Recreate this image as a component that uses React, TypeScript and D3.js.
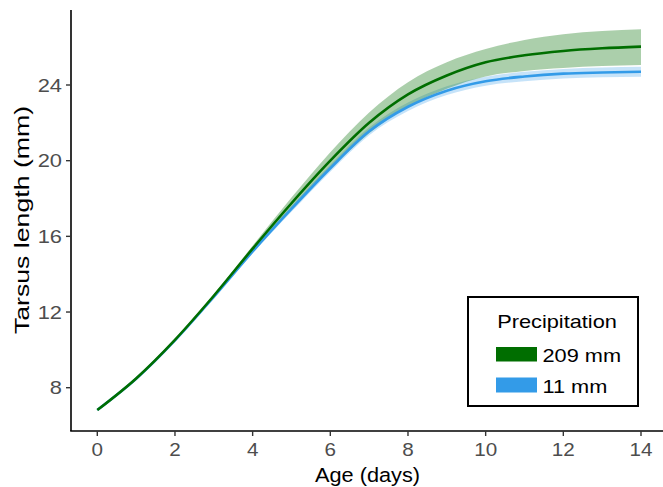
import React from "react";
import * as d3 from "d3";

const ages = [0, 1, 2, 3, 4, 5, 6, 7, 8, 9, 10, 11, 12, 13, 14];
const wetMean = [6.82, 8.49, 10.53, 12.86, 15.35, 17.75, 20.0, 22.0, 23.5, 24.5, 25.2, 25.57, 25.8, 25.94, 26.03];
const wetLower = [6.8, 8.47, 10.5, 12.8, 15.2, 17.45, 19.55, 21.45, 22.85, 23.8, 24.45, 24.74, 24.9, 25.0, 25.06];
const wetUpper = [6.84, 8.51, 10.56, 12.92, 15.5, 18.05, 20.45, 22.55, 24.15, 25.2, 25.9, 26.38, 26.68, 26.85, 26.95];
const dryMean = [6.82, 8.47, 10.5, 12.8, 15.2, 17.45, 19.6, 21.55, 22.85, 23.7, 24.2, 24.45, 24.6, 24.66, 24.7];
const dryLower = [6.8, 8.45, 10.46, 12.74, 15.1, 17.3, 19.42, 21.35, 22.63, 23.47, 23.96, 24.2, 24.35, 24.41, 24.44];
const dryUpper = [6.84, 8.49, 10.54, 12.86, 15.3, 17.6, 19.78, 21.75, 23.07, 23.93, 24.44, 24.7, 24.85, 24.92, 24.96];
const xTicks = [0, 2, 4, 6, 8, 10, 12, 14];
const yTicks = [8, 12, 16, 20, 24];
const legendLabels = ["209 mm", "11 mm"];

const W = 663;
const H = 487;
const GREEN = "#006e00";
const BLUE = "#339be8";
const FONT = "'Liberation Sans', Arial, sans-serif";

type TProps = {
  x: number;
  y: number;
  size: number;
  sx: number;
  anchor?: "start" | "middle" | "end";
  fill?: string;
  rotate?: number;
  children: React.ReactNode;
};

function T({ x, y, size, sx, anchor = "start", fill = "#000", rotate = 0, children }: TProps) {
  return (
    <text
      transform={`translate(${x},${y}) rotate(${rotate}) scale(${sx},1)`}
      textAnchor={anchor}
      fontSize={size}
      fill={fill}
    >
      {children}
    </text>
  );
}

export default function App() {
  const x = d3.scaleLinear().domain([0, 14]).range([97.3, 641]);
  const y = d3.scaleLinear().domain([8, 24]).range([387.7, 85]);
  const axisLeft = 71;
  const axisBottom = 431;

  const line = (vals: number[]) =>
    d3
      .line<number>()
      .x((_, i) => x(ages[i]))
      .y((d) => y(d))
      .curve(d3.curveMonotoneX)(vals) || "";
  const band = (lo: number[], hi: number[]) =>
    d3
      .area<number>()
      .x((_, i) => x(ages[i]))
      .y0((_, i) => y(lo[i]))
      .y1((_, i) => y(hi[i]))
      .curve(d3.curveMonotoneX)(ages) || "";

  return (
    <svg
      width={W}
      height={H}
      style={{ position: "absolute", left: 0, top: 0, background: "#fff" }}
      fontFamily={FONT}
    >
      <rect width={W} height={H} fill="#fff" />
      <path d={band(dryLower, dryUpper)} fill={BLUE} fillOpacity={0.28} />
      <path d={band(wetLower, wetUpper)} fill={GREEN} fillOpacity={0.33} />
      <path d={line(dryMean)} fill="none" stroke={BLUE} strokeWidth={2.6} />
      <path d={line(wetMean)} fill="none" stroke={GREEN} strokeWidth={2.6} />

      {/* axes */}
      <line x1={axisLeft} x2={axisLeft} y1={10} y2={axisBottom} stroke="#000" strokeWidth={1.6} />
      <line x1={axisLeft - 0.8} x2={W} y1={axisBottom} y2={axisBottom} stroke="#000" strokeWidth={1.6} />
      {xTicks.map((t) => (
        <g key={"x" + t}>
          <line x1={x(t)} x2={x(t)} y1={axisBottom} y2={axisBottom + 5} stroke="#333" strokeWidth={1.4} />
          <T x={x(t)} y={456} size={17.5} sx={1.18} anchor="middle" fill="#4d4d4d">
            {t}
          </T>
        </g>
      ))}
      {yTicks.map((t) => (
        <g key={"y" + t}>
          <line x1={axisLeft - 5} x2={axisLeft} y1={y(t)} y2={y(t)} stroke="#333" strokeWidth={1.4} />
          <T x={62} y={y(t) + 6.5} size={17.5} sx={1.25} anchor="end" fill="#4d4d4d">
            {t}
          </T>
        </g>
      ))}
      <T x={367.5} y={481.5} size={20.5} sx={1.06} anchor="middle">
        Age (days)
      </T>
      <T x={29} y={220} size={21} sx={1.27} anchor="middle" rotate={-90}>
        Tarsus length (mm)
      </T>

      {/* legend */}
      <rect x={468} y={297} width={170} height={109} fill="#fff" stroke="#000" strokeWidth={2} />
      <T x={557} y={328.3} size={18.6} sx={1.17} anchor="middle">
        Precipitation
      </T>
      <rect x={496} y={347} width={41} height={14.5} fill={GREEN} />
      <T x={542.5} y={361.7} size={18.6} sx={1.17}>
        {legendLabels[0]}
      </T>
      <rect x={496} y={377.5} width={41} height={15} fill={BLUE} />
      <T x={542.5} y={393.3} size={18.6} sx={1.17}>
        {legendLabels[1]}
      </T>
    </svg>
  );
}
